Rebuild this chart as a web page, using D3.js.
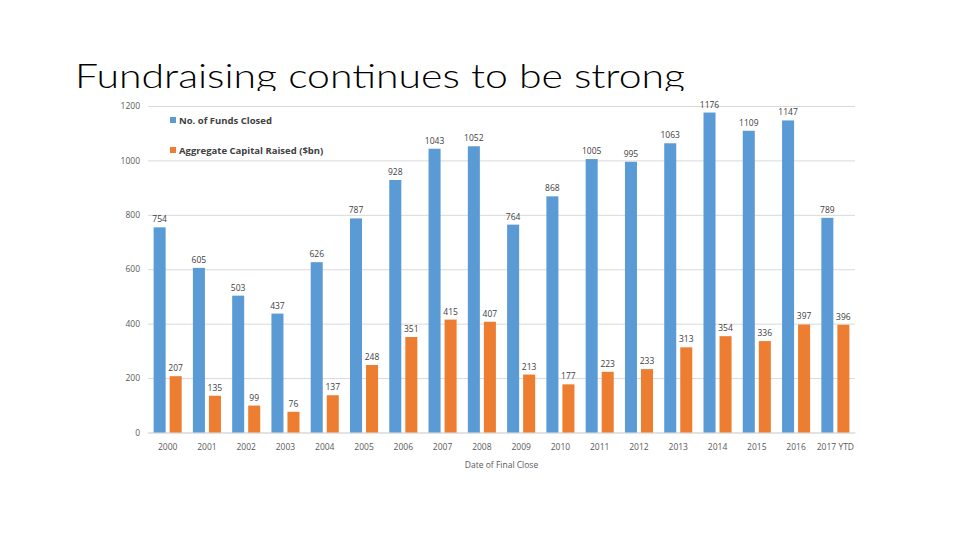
<!DOCTYPE html>
<html>
<head>
<meta charset="utf-8">
<script src="https://cdn.jsdelivr.net/npm/d3@7"></script>
<style>
  html, body { margin: 0; padding: 0; background: #fff; }
  svg { display: block; }
</style>
</head>
<body>
<svg id="chart" width="960" height="540"></svg>
<script>
const categories = ["2000","2001","2002","2003","2004","2005","2006","2007","2008","2009","2010","2011","2012","2013","2014","2015","2016","2017 YTD"];
const fundsClosed = [754,605,503,437,626,787,928,1043,1052,764,868,1005,995,1063,1176,1109,1147,789];
const capitalRaised = [207,135,99,76,137,248,351,415,407,213,177,223,233,313,354,336,397,396];
const seriesNames = ["No. of Funds Closed","Aggregate Capital Raised ($bn)"];
const seriesColors = ["#5B9BD5","#ED7D31"];
const yTicks = [0,200,400,600,800,1000,1200];

(function(){
const svg = d3.select("#chart");
const font = "'Open Sans', 'Liberation Sans', sans-serif";

// Title
svg.append("text")
  .attr("x", 75).attr("y", 88)
  .attr("font-family", "Lato, 'Open Sans', sans-serif")
  .attr("font-weight", 300)
  .attr("font-size", 34)
  .attr("fill", "#000")
  .attr("textLength", 610)
  .attr("lengthAdjust", "spacingAndGlyphs")
  .text("Fundraising continues to be strong");

// Chart area (white, overlapping the title descenders like the pasted picture)
svg.append("rect").attr("x", 96).attr("y", 91).attr("width", 770).attr("height", 389).attr("fill", "#fff");

const pl = 148, pr = 855, pt = 106, pb = 432.5;
const x0 = d3.scaleBand().domain(categories).range([pl, pr]).padding(0);
const x1 = d3.scaleBand().domain([0,1]).range([0, x0.bandwidth()]).paddingInner(0.25).paddingOuter(0.35);
const y = d3.scaleLinear().domain([0,1200]).range([pb, pt]);

// gridlines
const yAxis = d3.axisLeft(y).tickValues(yTicks).tickSize(-(pr-pl)).tickPadding(8).tickFormat(d3.format("d"));
const gy = svg.append("g").attr("transform", `translate(${pl},0)`).call(yAxis);
gy.select(".domain").remove();
gy.selectAll(".tick line").attr("stroke", "#d9d9d9").attr("stroke-width", 1);
gy.selectAll(".tick text").attr("font-family", font).attr("font-size", 8.5).attr("fill", "#595959");

// x axis
const xAxis = d3.axisBottom(x0).tickSize(0).tickPadding(11);
const gx = svg.append("g").attr("transform", `translate(0,${pb})`).call(xAxis);
gx.select(".domain").attr("stroke", "#d9d9d9");
gx.selectAll(".tick text").attr("font-family", font).attr("font-size", 8.5).attr("fill", "#595959");

// bars
const data = categories.map((c,i) => ({c, vals:[fundsClosed[i], capitalRaised[i]]}));
const groups = svg.append("g").selectAll("g").data(data).join("g")
  .attr("transform", d => `translate(${x0(d.c)},0)`);
groups.selectAll("rect").data(d => d.vals.map((v,k)=>({v,k}))).join("rect")
  .attr("x", d => x1(d.k)).attr("width", x1.bandwidth())
  .attr("y", d => y(d.v)).attr("height", d => y(0) - y(d.v))
  .attr("fill", d => seriesColors[d.k]);
groups.selectAll("text").data(d => d.vals.map((v,k)=>({v,k}))).join("text")
  .attr("x", d => x1(d.k) + x1.bandwidth()/2)
  .attr("y", d => y(d.v) - 5)
  .attr("text-anchor", "middle")
  .attr("font-family", font).attr("font-size", 8.5).attr("fill", "#404040")
  .text(d => d.v);

// legend
const leg = svg.append("g").selectAll("g").data(seriesNames).join("g")
  .attr("transform", (d,i) => `translate(170,${117 + i*30})`);
leg.append("rect").attr("width", 6).attr("height", 6).attr("fill", (d,i) => seriesColors[i]);
leg.append("text").attr("x", 9).attr("y", 6.5)
  .attr("font-family", font).attr("font-size", 9.5).attr("font-weight", 700).attr("fill", "#404040")
  .text(d => d);

// axis title
svg.append("text").attr("x", (pl+pr)/2).attr("y", 468).attr("text-anchor", "middle")
  .attr("font-family", font).attr("font-size", 8.5).attr("fill", "#595959")
  .text("Date of Final Close");
})();
</script>
</body>
</html>
